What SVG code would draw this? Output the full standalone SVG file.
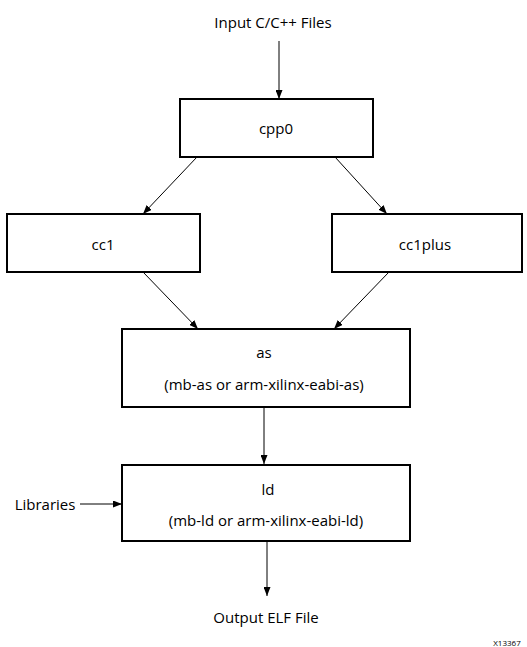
<svg xmlns="http://www.w3.org/2000/svg" width="527" height="647" viewBox="0 0 527 647">
<style>
.box{fill:#fff;stroke:#000;stroke-width:2}
.t{font-family:"Open Sans","Liberation Sans",sans-serif;font-size:15px;fill:#000;text-anchor:middle;dominant-baseline:central}
.c{stroke:#000;stroke-width:1;fill:none;marker-end:url(#ah)}
</style>
<defs>
<marker id="ah" markerWidth="9" markerHeight="7" refX="9" refY="3.5" orient="auto" markerUnits="userSpaceOnUse">
<path d="M0,0 L9,3.5 L0,7 Z" fill="#000"/>
</marker>
</defs>
<rect width="527" height="647" fill="#fff"/>
<g id="connectors">
<line class="c" x1="279" y1="41" x2="279" y2="99"/>
<line class="c" x1="197" y1="157" x2="143" y2="214"/>
<line class="c" x1="335" y1="157" x2="387" y2="214"/>
<line class="c" x1="143" y1="272" x2="198" y2="329"/>
<line class="c" x1="389" y1="272" x2="334" y2="329"/>
<line class="c" x1="264" y1="408" x2="264" y2="464"/>
<line class="c" x1="80" y1="504" x2="122" y2="504"/>
<line class="c" x1="267" y1="542" x2="267" y2="596"/>
</g>
<g id="input"><text class="t" x="273" y="22">Input C/C++ Files</text></g>
<g id="cpp0"><rect class="box" x="180" y="99" width="193" height="58"/><text class="t" x="276" y="128">cpp0</text></g>
<g id="cc1"><rect class="box" x="7" y="214" width="193" height="58"/><text class="t" x="103" y="244">cc1</text></g>
<g id="cc1plus"><rect class="box" x="332" y="214" width="190" height="58"/><text class="t" x="425" y="244">cc1plus</text></g>
<g id="as"><rect class="box" x="122" y="329" width="288" height="78"/><text class="t" x="264" y="352">as</text><text class="t" x="264" y="384">(mb-as or arm-xilinx-eabi-as)</text></g>
<g id="ld"><rect class="box" x="122" y="465" width="288" height="76"/><text class="t" x="268" y="489">ld</text><text class="t" x="266" y="520">(mb-ld or arm-xilinx-eabi-ld)</text></g>
<g id="libraries"><text class="t" x="45" y="504">Libraries</text></g>
<g id="output"><text class="t" x="266" y="617">Output ELF File</text></g>
<text class="t" x="507" y="642" style="font-size:8px">X13367</text>
</svg>
